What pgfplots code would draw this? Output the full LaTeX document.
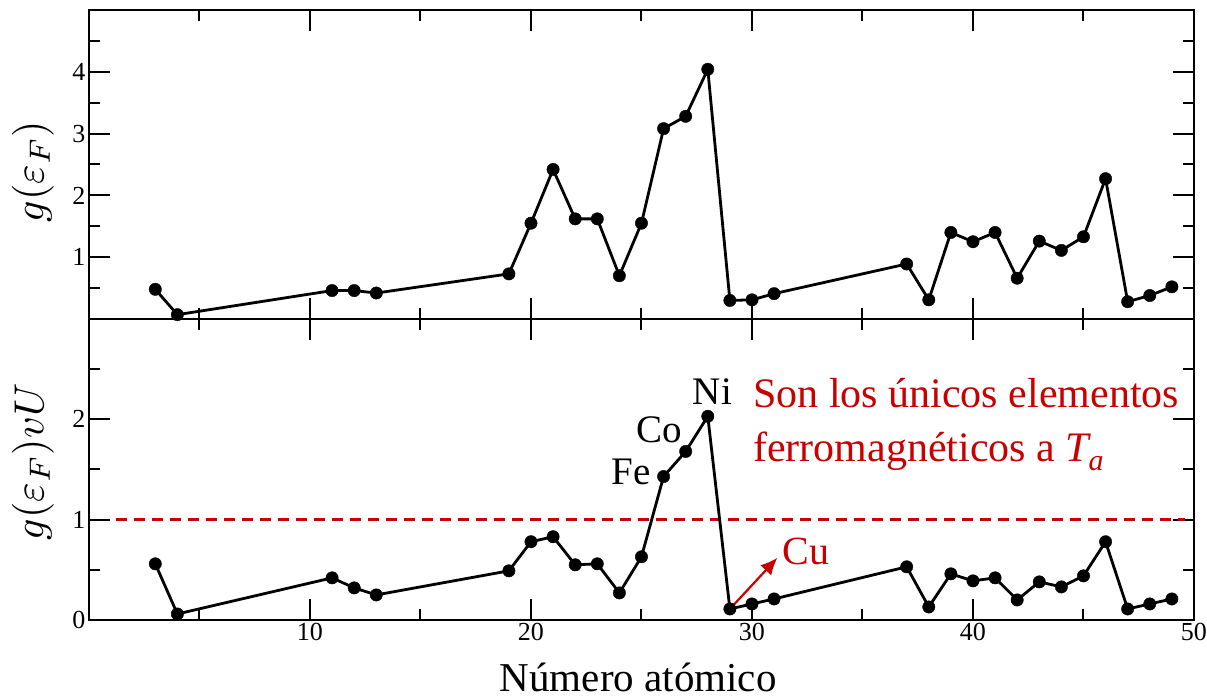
\documentclass[border=0pt]{standalone}
\usepackage{pgfplots}
\pgfplotsset{compat=1.18}
\usetikzlibrary{arrows.meta}
\usepackage{fontspec}
\setmainfont{Liberation Serif}
\definecolor{myred}{RGB}{200,0,0}
\pgfplotsset{
  myaxis/.style={
    scale only axis, width=1105pt, xmin=0, xmax=50,
    xtick={10,20,30,40,50}, minor xtick={5,15,25,35,45},
    tick align=inside, major tick length=21pt, minor tick length=11pt,
    every tick/.style={line width=2pt, black},
    axis line style={line width=2pt},
    tick label style={font=\fontsize{26}{30}\selectfont},
    /pgf/number format/assume math mode=true,
    clip=false,
  },
  myplot/.style={black, line width=2.8pt, mark=*, mark size=6.2pt, mark options={solid, line width=0.4pt}},
}
\pgfplotstableread{
x y
3 0.48
4 0.07
11 0.46
12 0.46
13 0.42
19 0.73
20 1.55
21 2.42
22 1.62
23 1.62
24 0.70
25 1.55
26 3.08
27 3.28
28 4.04
29 0.30
30 0.31
31 0.41
37 0.89
38 0.31
39 1.40
40 1.25
41 1.40
42 0.66
43 1.26
44 1.11
45 1.33
46 2.27
47 0.28
48 0.38
49 0.52
}\topdata
\pgfplotstableread{
x y
3 0.56
4 0.06
11 0.42
12 0.32
13 0.25
19 0.49
20 0.78
21 0.83
22 0.55
23 0.56
24 0.27
25 0.63
26 1.43
27 1.68
28 2.03
29 0.11
30 0.16
31 0.21
37 0.53
38 0.13
39 0.46
40 0.39
41 0.42
42 0.20
43 0.38
44 0.33
45 0.44
46 0.78
47 0.11
48 0.16
49 0.21
}\botdata
\begin{document}
\begin{tikzpicture}
% bottom panel
\begin{axis}[myaxis, at={(0pt,0pt)}, anchor=south west,
  height=301pt, ymin=0, ymax=3,
  ytick={0,1,2}, minor ytick={0.5,1.5,2.5},
  xlabel={Número atómico},
  every axis x label/.style={at={(axis description cs:0.497,0)}, anchor=base, yshift=-71pt, font=\fontsize{41}{48}\selectfont},
  ylabel={\scalebox{4.2}{$g(\varepsilon_F)vU$}},
  every axis y label/.style={at={([xshift=-56pt]axis description cs:0,0.525)}, rotate=90, anchor=center},
]
\addplot[myred, line width=2.5pt, dash pattern=on 11pt off 7pt] coordinates {(1.2,1) (49.6,1)};
\addplot[myplot] table[x=x,y=y] {\botdata};
\draw[myred, line width=2.2pt, -{Latex[length=17pt,width=15pt]}] (axis cs:29.0,0.11) -- (axis cs:31.15,0.62);
\node[anchor=base west, inner sep=0pt, font=\fontsize{39}{44}\selectfont] at (axis cs:27.32,2.15) {Ni};
\node[anchor=base west, inner sep=0pt, font=\fontsize{39}{44}\selectfont] at (axis cs:24.78,1.767) {Co};
\node[anchor=base west, inner sep=0pt, font=\fontsize{39}{44}\selectfont] at (axis cs:23.65,1.35) {Fe};
\node[anchor=base west, inner sep=0pt, text=myred, font=\fontsize{40}{44}\selectfont] at (axis cs:31.39,0.55) {Cu};
\node[anchor=base west, inner sep=0pt, text=myred, font=\fontsize{42}{48}\selectfont] at (axis cs:30.05,2.12) {Son los únicos elementos};
\node[anchor=base west, inner sep=0pt, text=myred, font=\fontsize{42}{48}\selectfont] at (axis cs:30.05,1.58) {ferromagnéticos a \textit{T}\kern-3pt\raisebox{-9pt}{\fontsize{30}{32}\selectfont\textit{a}}};
\end{axis}
% top panel
\begin{axis}[myaxis, at={(0pt,301pt)}, anchor=south west,
  height=309pt, ymin=0, ymax=5,
  ytick={1,2,3,4}, minor ytick={0.5,1.5,2.5,3.5,4.5},
  xticklabels={},
  ylabel={\scalebox{4.2}{$g(\varepsilon_F)$}},
  every axis y label/.style={at={([xshift=-56pt]axis description cs:0,0.477)}, rotate=90, anchor=center},
]
\addplot[myplot] table[x=x,y=y] {\topdata};
\end{axis}
\pgfresetboundingbox
\path[use as bounding box] (-89pt,-78pt) rectangle (1118pt,620pt);
\end{tikzpicture}
\end{document}
